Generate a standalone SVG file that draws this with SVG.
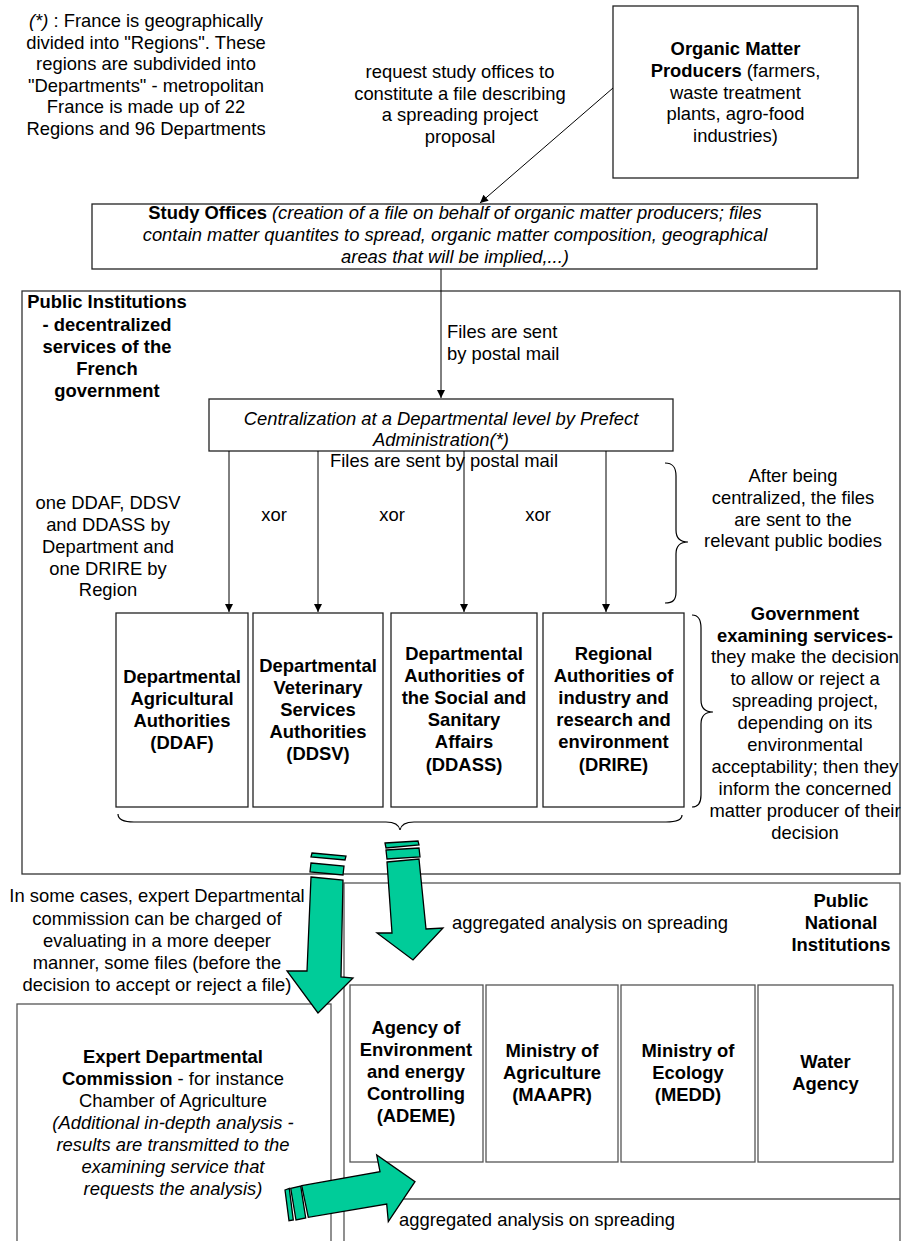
<svg xmlns="http://www.w3.org/2000/svg" width="901" height="1241" viewBox="0 0 901 1241">
<style>
text{font-family:"Liberation Sans",Arial,sans-serif;font-size:18.4px;fill:#000}
.c{text-anchor:middle}
.b{font-weight:bold}
.i{font-style:italic}
.box{fill:#fff;stroke:#222;stroke-width:1.3}
.gbox{fill:#fff;stroke:#555;stroke-width:1.3}
.frame{fill:none;stroke:#333;stroke-width:1.3}
.gframe{fill:none;stroke:#555;stroke-width:1.3}
.ln{stroke:#000;stroke-width:1;fill:none}
.br{stroke:#000;stroke-width:1.2;fill:none}
.g{fill:#00CC99;stroke:#000;stroke-width:1.3;stroke-linejoin:miter}
</style>
<defs>
<marker id="ah" viewBox="0 0 10 10" refX="10" refY="5" markerWidth="9" markerHeight="8" orient="auto" markerUnits="userSpaceOnUse"><path d="M0,0 L10,5 L0,10 z" fill="#000"/></marker>
</defs>

<g id="frames">
<rect class="frame" x="22" y="291" width="878" height="583"/>
<rect class="gframe" x="344" y="883" width="556" height="380"/>
<line class="gframe" x1="344" y1="1199" x2="900" y2="1199"/>
</g>

<g id="note">
<text class="c" x="146" y="27"><tspan class="i">(*)</tspan> : France is geographically</text>
<text class="c" x="146" y="48.5">divided into "Regions". These</text>
<text class="c" x="146" y="70">regions are subdivided into</text>
<text class="c" x="146" y="91.5">"Departments" - metropolitan</text>
<text class="c" x="146" y="113">France is made up of 22</text>
<text class="c" x="146" y="134.5">Regions and 96 Departments</text>
</g>

<g id="request-label">
<text class="c" x="460" y="78">request study offices to</text>
<text class="c" x="460" y="100">constitute a file describing</text>
<text class="c" x="460" y="121">a spreading project</text>
<text class="c" x="460" y="143">proposal</text>
</g>

<g id="producers">
<rect class="box" x="613" y="6" width="245" height="172"/>
<text class="c b" x="735.5" y="55">Organic Matter</text>
<text class="c" x="735.5" y="77"><tspan class="b">Producers</tspan> (farmers,</text>
<text class="c" x="735.5" y="98.5">waste treatment</text>
<text class="c" x="735.5" y="120">plants, agro-food</text>
<text class="c" x="735.5" y="142">industries)</text>
</g>

<g id="study-offices">
<rect class="box" x="92" y="204" width="725" height="65"/>
<text class="c" x="455" y="218.5"><tspan class="b">Study Offices</tspan> <tspan class="i">(creation of a file on behalf of organic matter producers; files</tspan></text>
<text class="c i" x="455" y="240.5">contain matter quantites to spread, organic matter composition, geographical</text>
<text class="c i" x="455" y="262.5">areas that will be implied,...)</text>
</g>

<g id="public-institutions-label">
<text class="c b" x="107" y="308">Public Institutions</text>
<text class="c b" x="107" y="330.5">- decentralized</text>
<text class="c b" x="107" y="353">services of the</text>
<text class="c b" x="107" y="375">French</text>
<text class="c b" x="107" y="397">government</text>
</g>

<g id="centralization">
<rect class="box" x="209" y="399" width="464" height="52"/>
<text class="c i" x="441" y="425">Centralization at a Departmental level by Prefect</text>
<text class="c i" x="441" y="446">Administration(*)</text>
</g>

<g id="labels">
<text x="447" y="338">Files are sent</text>
<text x="447" y="360">by postal mail</text>
<text class="c" x="444" y="467">Files are sent by postal mail</text>
<text class="c" x="108" y="509">one DDAF, DDSV</text>
<text class="c" x="108" y="531">and DDASS by</text>
<text class="c" x="108" y="553">Department and</text>
<text class="c" x="108" y="575">one DRIRE by</text>
<text class="c" x="108" y="596">Region</text>
<text class="c" x="274" y="521">xor</text>
<text class="c" x="392" y="521">xor</text>
<text class="c" x="538" y="521">xor</text>
<text class="c" x="793" y="482">After being</text>
<text class="c" x="793" y="504">centralized, the files</text>
<text class="c" x="793" y="526">are sent to the</text>
<text class="c" x="793" y="547">relevant public bodies</text>
</g>

<g id="ddaf">
<rect class="box" x="116" y="613" width="132" height="194"/>
<text class="c b" x="182" y="683">Departmental</text>
<text class="c b" x="182" y="705">Agricultural</text>
<text class="c b" x="182" y="727">Authorities</text>
<text class="c b" x="182" y="749">(DDAF)</text>
</g>
<g id="ddsv">
<rect class="box" x="253" y="613" width="130" height="194"/>
<text class="c b" x="318" y="672">Departmental</text>
<text class="c b" x="318" y="694">Veterinary</text>
<text class="c b" x="318" y="716">Services</text>
<text class="c b" x="318" y="738">Authorities</text>
<text class="c b" x="318" y="760">(DDSV)</text>
</g>
<g id="ddass">
<rect class="box" x="391" y="613" width="146" height="194"/>
<text class="c b" x="464" y="660">Departmental</text>
<text class="c b" x="464" y="682">Authorities of</text>
<text class="c b" x="464" y="704">the Social and</text>
<text class="c b" x="464" y="726">Sanitary</text>
<text class="c b" x="464" y="748">Affairs</text>
<text class="c b" x="464" y="771">(DDASS)</text>
</g>
<g id="drire">
<rect class="box" x="543" y="613" width="141" height="194"/>
<text class="c b" x="613.5" y="660">Regional</text>
<text class="c b" x="613.5" y="682">Authorities of</text>
<text class="c b" x="613.5" y="704">industry and</text>
<text class="c b" x="613.5" y="726">research and</text>
<text class="c b" x="613.5" y="748">environment</text>
<text class="c b" x="613.5" y="771">(DRIRE)</text>
</g>

<g id="government-label">
<text class="c b" x="805" y="620">Government</text>
<text class="c b" x="805" y="641.5">examining services-</text>
<text class="c" x="805" y="663">they make the decision</text>
<text class="c" x="805" y="685">to allow or reject a</text>
<text class="c" x="805" y="707">spreading project,</text>
<text class="c" x="805" y="729">depending on its</text>
<text class="c" x="805" y="751">environmental</text>
<text class="c" x="805" y="773">acceptability; then they</text>
<text class="c" x="805" y="795">inform the concerned</text>
<text class="c" x="805" y="817">matter producer of their</text>
<text class="c" x="805" y="839">decision</text>
</g>

<g id="expert-label">
<text class="c" x="157" y="902">In some cases, expert Departmental</text>
<text class="c" x="157" y="925">commission can be charged of</text>
<text class="c" x="157" y="947">evaluating in a more deeper</text>
<text class="c" x="157" y="969">manner, some files (before the</text>
<text class="c" x="157" y="990.5">decision to accept or reject a file)</text>
</g>

<g id="national-label">
<text class="c b" x="841" y="907">Public</text>
<text class="c b" x="841" y="929">National</text>
<text class="c b" x="841" y="951">Institutions</text>
<text x="452" y="929">aggregated analysis on spreading</text>
<text x="399" y="1226">aggregated analysis on spreading</text>
</g>

<g id="expert-commission">
<rect class="gbox" x="17" y="1004" width="314" height="260"/>
<text class="c b" x="173" y="1063">Expert Departmental</text>
<text class="c" x="173" y="1085"><tspan class="b">Commission</tspan> - for instance</text>
<text class="c" x="173" y="1107">Chamber of Agriculture</text>
<text class="c i" x="173" y="1129">(Additional in-depth analysis -</text>
<text class="c i" x="173" y="1151">results are transmitted to the</text>
<text class="c i" x="173" y="1173">examining service that</text>
<text class="c i" x="173" y="1195">requests the analysis)</text>
</g>

<g id="ademe">
<rect class="gbox" x="350" y="985" width="133" height="177"/>
<text class="c b" x="416" y="1034">Agency of</text>
<text class="c b" x="416" y="1056">Environment</text>
<text class="c b" x="416" y="1078">and energy</text>
<text class="c b" x="416" y="1100">Controlling</text>
<text class="c b" x="416" y="1122">(ADEME)</text>
</g>
<g id="maapr">
<rect class="gbox" x="486" y="985" width="132" height="177"/>
<text class="c b" x="552" y="1057">Ministry of</text>
<text class="c b" x="552" y="1079">Agriculture</text>
<text class="c b" x="552" y="1101">(MAAPR)</text>
</g>
<g id="medd">
<rect class="gbox" x="621" y="985" width="134" height="177"/>
<text class="c b" x="688" y="1057">Ministry of</text>
<text class="c b" x="688" y="1079">Ecology</text>
<text class="c b" x="688" y="1101">(MEDD)</text>
</g>
<g id="water">
<rect class="gbox" x="758" y="985" width="135" height="177"/>
<text class="c b" x="825.5" y="1068">Water</text>
<text class="c b" x="825.5" y="1090">Agency</text>
</g>

<g id="connectors">
<line class="ln" x1="613" y1="88" x2="480" y2="203" marker-end="url(#ah)"/>
<line class="ln" x1="441" y1="269" x2="441" y2="398" marker-end="url(#ah)"/>
<line class="ln" x1="229" y1="451" x2="229" y2="612" marker-end="url(#ah)"/>
<line class="ln" x1="318" y1="451" x2="318" y2="612" marker-end="url(#ah)"/>
<line class="ln" x1="464" y1="451" x2="464" y2="612" marker-end="url(#ah)"/>
<line class="ln" x1="606" y1="451" x2="606" y2="612" marker-end="url(#ah)"/>
<path class="br" d="M665,463 C673,463 676,467 676,476 L676,530 C676,538 680,542 688,542 C680,542 676,546 676,554 L676,592 C676,600 673,603 665,603"/>
<path class="br" d="M692,615 C698,615 701,620 701,628 L701,700 C701,708 705,712 713,712 C705,712 701,716 701,724 L701,795 C701,803 698,807 692,807"/>
<path class="br" d="M118,814 C118,819 124,822 134,822 L386,822 C394,822 399,825 400,830 C401,825 406,822 414,822 L666,822 C676,822 682,820 682,815"/>
<polygon class="g" points="312,853 346,856 345,860 311,857"/>
<polygon class="g" points="311,863 344,866 343,875 310,872"/>
<polygon class="g" points="311,877 343,880 341,977 353,978 318,1013 287,971 307,971"/>
<polygon class="g" points="385,843 418,841 419,845 386,848"/>
<polygon class="g" points="386,850 419,848 420,857 387,859"/>
<polygon class="g" points="387,862 419,859 426,929 443,928 413,960 377,933 392,933"/>
<polygon class="g" points="285,1190 289.3,1188.3 293.3,1220 289,1220.7"/>
<polygon class="g" points="290.7,1188.3 300.7,1186 305.7,1218 296,1220"/>
<polygon class="g" points="301.7,1185.7 380,1171.7 376.7,1155 415,1181.7 388.3,1221.7 386.7,1204 308.3,1217.3"/>
</g>
</svg>
